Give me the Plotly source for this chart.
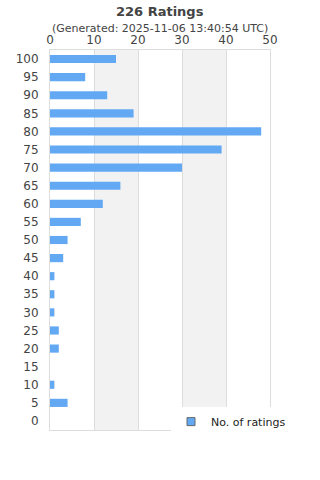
import plotly.graph_objects as go

categories = ["100", "95", "90", "85", "80", "75", "70", "65", "60", "55", "50",
              "45", "40", "35", "30", "25", "20", "15", "10", "5", "0"]
counts = [15, 8, 13, 19, 48, 39, 30, 16, 12, 7, 4, 3, 1, 1, 1, 2, 2, 0, 1, 4, 0]
x_ticks = [0, 10, 20, 30, 40, 50]

title_text = "226 Ratings"
subtitle_text = "(Generated: 2025-11-06 13:40:54 UTC)"
series_name = "No. of ratings"

bar_color = "#62a8f3"
font_family = "DejaVu Sans, Verdana, sans-serif"

fig = go.Figure()
fig.add_trace(go.Bar(
    y=categories, x=counts, orientation="h",
    marker=dict(color=bar_color, line=dict(width=0)),
    showlegend=False, name=series_name,
))
# legend proxy
fig.add_trace(go.Scatter(
    x=[None], y=[None], mode="markers", name=series_name,
    marker=dict(symbol="square", size=8, color=bar_color,
                line=dict(color="#666666", width=1)),
))

shapes = []
for a, b in [(10, 20), (30, 40)]:
    shapes.append(dict(type="rect", xref="x", yref="paper", x0=a, x1=b, y0=0, y1=1,
                       fillcolor="#f2f2f2", line=dict(width=0), layer="below"))

fig.update_layout(
    width=320, height=480,
    margin=dict(l=50, r=50, t=50, b=50),
    paper_bgcolor="white", plot_bgcolor="white",
    font=dict(family=font_family, color="#444444"),
    bargap=0.55,
    shapes=shapes,
    xaxis=dict(side="top", range=[0, 50], tickvals=x_ticks,
               showgrid=True, gridcolor="#dddddd", gridwidth=1,
               showline=True, linecolor="#dddddd", linewidth=1, mirror=True,
               zeroline=False, ticks="", tickfont=dict(size=12, color="#444444"),
               ticklabelstandoff=0),
    yaxis=dict(type="category", categoryorder="array", categoryarray=categories,
               autorange="reversed", showgrid=False,
               showline=True, linecolor="#dddddd", linewidth=1, mirror=True,
               ticks="", tickfont=dict(size=12, color="#444444"), ticklabelstandoff=8),
    legend=dict(x=0.55, xanchor="left", y=0.022, yanchor="middle",
                bgcolor="white", font=dict(size=11, color="#222222"),
                itemwidth=30, tracegroupgap=0),
    annotations=[
        dict(text="<b>" + title_text + "</b>", xref="paper", yref="paper",
             x=0.5, y=1, yshift=39, showarrow=False, xanchor="center", yanchor="middle",
             font=dict(size=13, color="#444444")),
        dict(text=subtitle_text, xref="paper", yref="paper",
             x=0.5, y=1, yshift=22, showarrow=False, xanchor="center", yanchor="middle",
             font=dict(size=11, color="#444444")),
    ],
)

fig.write_html("out.html")
